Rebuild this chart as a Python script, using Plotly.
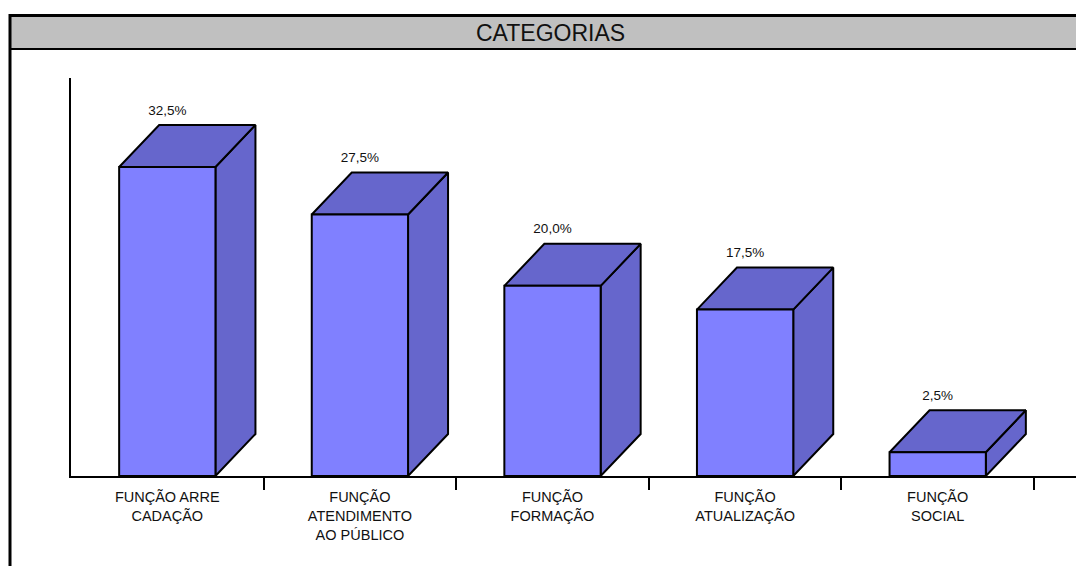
import plotly.graph_objects as go

# ---- data ----
categories = ["FUNÇÃO ARRE<br>CADAÇÃO", "FUNÇÃO<br>ATENDIMENTO<br>AO PÚBLICO",
              "FUNÇÃO<br>FORMAÇÃO", "FUNÇÃO<br>ATUALIZAÇÃO", "FUNÇÃO<br>SOCIAL"]
values = [32.5, 27.5, 20.0, 17.5, 2.5]
value_labels = ["32,5%", "27,5%", "20,0%", "17,5%", "2,5%"]
chart_title = "CATEGORIAS"

# ---- geometry / style ----
W, H = 1076, 566
ML, MR, MT, MB = 71, 0, 78, 90
PW, PH = W - ML - MR, H - MT - MB
CAT_PX = 192.6                      # pixels per category
X0 = -0.5
X1 = X0 + PW / CAT_PX
Y_MAX = 41.86
PX_PER_Y = PH / Y_MAX

HALF_W = 0.25                       # half width of the front face (category units)
DX = 40 / CAT_PX                    # depth offset, x
DY = 42 / PX_PER_Y                  # depth offset, y
LABEL_GAP = 7 / PX_PER_Y

FRONT = "#8080FF"
DARK = "#6666CC"
EDGE = "#000000"
FONT = "Liberation Sans, Arial, sans-serif"

fig = go.Figure()

for i, v in enumerate(values):
    xl, xr = i - HALF_W, i + HALF_W
    # side face
    fig.add_trace(go.Scatter(
        x=[xr, xr + DX, xr + DX, xr, xr], y=[0, DY, v + DY, v, 0],
        mode="lines", fill="toself", fillcolor=DARK,
        line=dict(color=EDGE, width=2), hoverinfo="skip", showlegend=False))
    # top face
    fig.add_trace(go.Scatter(
        x=[xl, xr, xr + DX, xl + DX, xl], y=[v, v, v + DY, v + DY, v],
        mode="lines", fill="toself", fillcolor=DARK,
        line=dict(color=EDGE, width=2), hoverinfo="skip", showlegend=False))
    # front face
    fig.add_trace(go.Scatter(
        x=[xl, xr, xr, xl, xl], y=[0, 0, v, v, 0],
        mode="lines", fill="toself", fillcolor=FRONT,
        line=dict(color=EDGE, width=2), hoverinfo="skip", showlegend=False))

# value labels
fig.add_trace(go.Scatter(
    x=list(range(len(values))), y=[v + DY + LABEL_GAP for v in values],
    mode="text", text=value_labels, textposition="top center",
    textfont=dict(family=FONT, size=13.5, color="#111111"),
    cliponaxis=False, hoverinfo="skip", showlegend=False))

# invisible trace for the tick overlay axis
fig.add_trace(go.Scatter(x=[0], y=[0], xaxis="x2", mode="markers",
                         marker=dict(opacity=0), hoverinfo="skip", showlegend=False))

def px_x(p):
    return (p - ML) / PW

def px_y(p):
    return (H - MB - p) / PH

shapes = [
    dict(type="rect", xref="paper", yref="paper",
         x0=px_x(9), x1=px_x(W + 5), y0=px_y(49), y1=px_y(15),
         fillcolor="#C0C0C0", line=dict(width=0), layer="below"),
    dict(type="line", xref="paper", yref="paper",
         x0=px_x(9), x1=px_x(W + 5), y0=px_y(15.5), y1=px_y(15.5),
         line=dict(color="black", width=3)),
    dict(type="line", xref="paper", yref="paper",
         x0=px_x(9), x1=px_x(W + 5), y0=px_y(49), y1=px_y(49),
         line=dict(color="black", width=2)),
    dict(type="line", xref="paper", yref="paper",
         x0=px_x(10), x1=px_x(10), y0=px_y(14), y1=px_y(H + 5),
         line=dict(color="black", width=3)),
]

fig.update_layout(
    width=W, height=H,
    margin=dict(l=ML, r=MR, t=MT, b=MB, pad=0),
    paper_bgcolor="white", plot_bgcolor="white",
    font=dict(family=FONT, color="#111111"),
    shapes=shapes,
    annotations=[dict(text=chart_title, xref="paper", yref="paper",
                      x=px_x(550), y=px_y(33), xanchor="center", yanchor="middle",
                      showarrow=False, font=dict(family=FONT, size=23, color="#111111"))],
    xaxis=dict(range=[X0, X1], tickvals=list(range(len(categories))), ticktext=categories,
               ticks="", showgrid=False, zeroline=False, showline=True,
               linecolor="black", linewidth=2, ticklabelstandoff=7,
               tickfont=dict(family=FONT, size=14.5, color="#111111"), fixedrange=True),
    xaxis2=dict(range=[X0, X1], overlaying="x", anchor="y", side="bottom",
                tickvals=[i + 0.5 for i in range(len(categories))],
                ticks="outside", ticklen=13, tickwidth=2, tickcolor="black",
                showticklabels=False, showgrid=False, zeroline=False, showline=False),
    yaxis=dict(range=[0, Y_MAX], showticklabels=False, ticks="", showgrid=False,
               zeroline=False, showline=True, linecolor="black", linewidth=2),
)

fig.write_html("out.html")
